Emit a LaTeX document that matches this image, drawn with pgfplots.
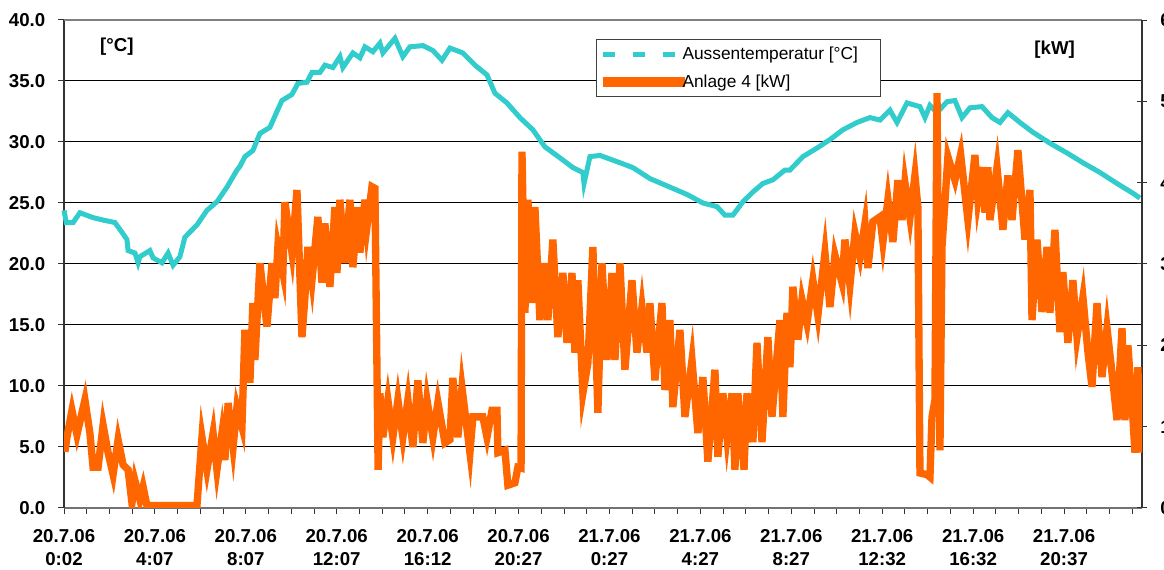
\documentclass[border=0pt]{standalone}
\usepackage{pgfplots}
\pgfplotsset{compat=1.18}
\usepackage{fontspec}
\setmainfont{Liberation Sans}
\definecolor{cyanT}{HTML}{33CCCC}
\definecolor{orangeT}{HTML}{FF6600}
\begin{document}
\begin{tikzpicture}
\begin{axis}[
  at={(48pt,46.5pt)}, anchor=south west, scale only axis,
  width=808.5pt, height=366pt,
  xmin=0, xmax=47.43, ymin=0, ymax=40,
  axis x line*=bottom, axis y line*=left,
  x axis line style={-, draw=black!55, line width=1.5pt},
  y axis line style={-, draw=black!80, line width=1.5pt},
  xtick={0,4,...,44}, minor xtick={0,1,...,47},
  xticklabels={{20.7.06\\0:02},{20.7.06\\4:07},{20.7.06\\8:07},{20.7.06\\12:07},{20.7.06\\16:12},{20.7.06\\20:27},{21.7.06\\0:27},{21.7.06\\4:27},{21.7.06\\8:27},{21.7.06\\12:32},{21.7.06\\16:32},{21.7.06\\20:37}},
  xticklabel style={align=center, yshift=-8pt, font=\fontsize{14}{17.25}\selectfont\bfseries},
  ytick={0,5,...,40},
  yticklabel style={xshift=-6pt, font=\fontsize{14}{16}\selectfont\bfseries, /pgf/number format/.cd, fixed, fixed zerofill, precision=1, assume math mode=true},
  tick align=outside, major tick length=4.5pt, minor tick length=4.5pt,
  tick style={black!80, line width=0.75pt},
  ymajorgrids, grid style={black, line width=0.75pt},
  clip=false,
]
\addplot[cyanT, line width=3.75pt, line join=miter] table {
0.00 24.4
0.10 23.4
0.40 23.4
0.70 24.2
1.28 23.8
1.72 23.6
2.24 23.4
2.55 22.6
2.77 22.0
2.82 21.1
3.12 20.9
3.26 20.1
3.34 20.6
3.78 21.1
3.92 20.5
4.31 20.1
4.58 20.9
4.80 19.9
5.10 20.6
5.32 22.2
5.85 23.2
6.29 24.4
6.73 25.1
7.17 26.3
7.61 27.7
7.74 28.0
7.96 28.8
8.31 29.3
8.62 30.7
9.06 31.2
9.37 32.5
9.59 33.4
10.03 33.9
10.29 34.8
10.69 34.9
10.91 35.7
11.26 35.7
11.48 36.3
11.83 36.1
12.14 37.0
12.27 36.1
12.71 37.3
13.02 36.9
13.24 37.8
13.59 37.4
13.90 38.1
14.03 37.3
14.56 38.5
14.91 37.0
15.22 37.8
15.79 37.9
16.23 37.5
16.63 36.7
16.98 37.7
17.55 37.3
18.08 36.3
18.61 35.5
18.96 34.0
19.49 33.2
20.06 32.0
20.63 31.0
21.16 29.6
21.82 28.7
22.39 27.9
22.83 27.5
22.88 26.6
23.14 28.8
23.58 28.9
24.46 28.3
25.03 27.9
25.78 27.0
26.66 26.3
27.41 25.7
28.11 25.0
28.73 24.7
29.08 24.0
29.43 24.0
29.87 25.1
30.31 25.9
30.75 26.6
31.19 26.9
31.72 27.7
31.94 27.7
32.51 28.8
33.13 29.5
33.70 30.2
34.27 31.0
34.89 31.6
35.46 32.0
35.90 31.8
36.34 32.6
36.65 31.6
37.09 33.2
37.66 32.9
37.88 32.0
38.10 33.0
38.41 32.4
38.85 33.3
39.20 33.4
39.51 32.0
39.86 32.8
40.39 32.9
40.83 32.0
41.18 31.6
41.53 32.4
42.06 31.6
42.63 30.8
43.38 29.9
44.13 29.1
44.83 28.3
45.58 27.5
46.33 26.6
47.03 25.8
47.34 25.4
};
\node[font=\fontsize{14}{16}\selectfont\bfseries] at (axis description cs:0.049,0.945) {[°C]};
\node[font=\fontsize{14}{16}\selectfont\bfseries] at (axis description cs:0.919,0.9385) {[kW]};
\end{axis}
\begin{axis}[
  at={(48pt,46.5pt)}, anchor=south west, scale only axis,
  width=808.5pt, height=366pt,
  xmin=0, xmax=47.43, ymin=0, ymax=6,
  axis x line*=top, axis y line*=right,
  x axis line style={-, draw=black!50, line width=1.5pt},
  y axis line style={-, draw=black!80, line width=1.5pt},
  xtick=\empty,
  ytick={0,1,...,6},
  yticklabel style={xshift=6.5pt, font=\fontsize{14}{16}\selectfont\bfseries, /pgf/number format/.cd, fixed, fixed zerofill, precision=1, assume math mode=true},
  tick align=center, major tick length=7.5pt,
  tick style={black!80, line width=0.75pt},
  legend cell align=left,
  legend style={at={(0.4935,0.961)}, anchor=north west, draw=black!75, line width=0.75pt, fill=white,
    font=\fontsize{13}{15}\selectfont, inner xsep=1pt, inner ysep=3.5pt, row sep=6pt,
    cells={anchor=west, inner xsep=1pt}},
]
\addlegendimage{legend image code/.code={\draw[cyanT, line width=3.75pt, dash pattern=on 9.5pt off 13pt] (0pt,0pt)--(61.5pt,0pt);}}
\addlegendentry{\hspace*{-7pt}Aussentemperatur [°C]\hspace*{14pt}}
\addplot[orangeT, line width=5.5pt, line join=miter, legend image code/.code={\draw[orangeT, line width=7pt] (0pt,0pt)--(61.5pt,0pt);}] table {
0.04 0.69
0.13 0.87
0.35 1.20
0.57 0.90
0.92 1.33
1.14 0.92
1.28 0.50
1.50 0.50
1.72 1.02
1.94 0.68
2.16 0.41
2.38 0.84
2.60 0.53
2.82 0.47
2.99 0.06
3.12 0.34
3.34 0.10
3.48 0.26
3.65 0.03
5.85 0.03
6.07 0.87
6.29 0.47
6.56 0.92
6.73 0.47
6.95 0.92
7.08 0.59
7.22 1.29
7.44 0.75
7.61 1.24
7.83 1.00
7.96 2.19
8.18 1.54
8.31 2.52
8.40 1.82
8.62 3.01
8.93 2.23
9.15 3.01
9.28 2.58
9.41 3.21
9.63 2.89
9.72 3.76
10.03 3.14
10.25 3.91
10.47 2.10
10.60 2.59
10.73 3.21
10.91 2.80
11.17 3.58
11.35 2.77
11.48 3.50
11.70 2.72
11.92 3.70
12.01 2.89
12.14 3.79
12.36 3.01
12.58 3.79
12.71 2.96
12.93 3.70
13.02 3.14
13.24 3.79
13.33 3.46
13.55 3.95
13.68 3.93
13.82 0.47
13.90 1.41
14.03 0.87
14.25 1.33
14.47 0.87
14.69 1.33
14.91 0.87
15.13 1.33
15.35 0.75
15.57 1.57
15.79 0.80
15.97 1.33
16.23 0.87
16.45 1.30
16.76 0.80
16.98 0.84
17.11 1.60
17.33 0.87
17.51 1.48
17.86 0.68
17.99 1.12
18.43 1.12
18.61 0.87
18.83 1.20
19.05 1.20
19.09 0.68
19.40 0.71
19.53 0.28
19.84 0.31
19.97 0.50
20.11 0.49
20.15 4.38
20.28 2.40
20.41 3.79
20.63 2.52
20.72 3.70
20.94 2.31
21.16 3.01
21.29 2.31
21.51 3.30
21.73 2.10
21.95 2.89
22.13 2.03
22.35 2.89
22.48 1.91
22.61 2.80
22.83 1.41
23.05 1.78
23.27 3.21
23.49 1.17
23.67 3.01
23.89 1.82
24.11 2.89
24.24 1.82
24.46 3.01
24.68 1.70
24.99 2.80
25.21 1.91
25.43 2.47
25.65 1.91
25.78 2.52
26.00 1.57
26.31 2.52
26.44 1.45
26.66 2.31
26.79 1.24
27.10 2.19
27.32 1.12
27.63 1.82
27.89 0.92
28.11 1.61
28.33 0.57
28.64 1.70
28.77 0.63
28.99 1.41
29.17 0.87
29.39 1.41
29.52 0.47
29.65 1.41
29.92 0.47
30.05 1.41
30.31 0.81
30.49 2.03
30.71 0.81
30.97 2.10
31.15 1.12
31.50 2.31
31.63 1.12
31.81 2.40
31.94 1.73
32.07 2.72
32.29 2.07
32.47 2.56
32.69 2.27
32.95 2.80
33.17 2.37
33.48 3.14
33.70 2.47
33.92 3.11
34.23 2.77
34.36 3.30
34.58 2.74
34.80 3.38
35.02 3.09
35.24 3.50
35.37 2.95
35.59 3.52
35.90 3.58
36.03 3.27
36.25 3.79
36.47 3.27
36.69 4.03
36.87 3.54
37.00 4.00
37.22 3.57
37.44 4.09
37.57 3.70
37.66 0.43
37.97 0.41
38.10 0.38
38.19 1.12
38.32 1.33
38.41 5.10
38.54 0.71
38.63 3.21
38.89 4.32
39.20 4.03
39.45 4.35
39.77 3.54
40.08 4.34
40.21 3.79
40.43 4.19
40.52 3.63
40.65 4.19
40.74 3.54
41.05 4.19
41.31 3.42
41.53 4.09
41.71 3.54
41.97 4.40
42.28 3.30
42.50 3.91
42.59 2.31
42.81 3.30
43.03 2.41
43.25 3.21
43.38 2.40
43.60 3.42
43.82 2.16
43.95 2.90
44.17 2.03
44.39 2.80
44.57 2.10
44.83 2.59
45.05 1.92
45.23 1.49
45.45 2.52
45.67 1.61
45.89 2.21
46.11 1.66
46.33 1.08
46.55 2.21
46.68 1.08
46.81 2.00
46.99 1.29
47.12 0.68
47.25 1.73
47.34 0.68
};
\addlegendentry{\hspace*{-7pt}Anlage 4 [kW]}
\end{axis}
\pgfresetboundingbox
\path[use as bounding box] (0,0) rectangle (873pt,427.5pt);
\end{tikzpicture}
\end{document}
